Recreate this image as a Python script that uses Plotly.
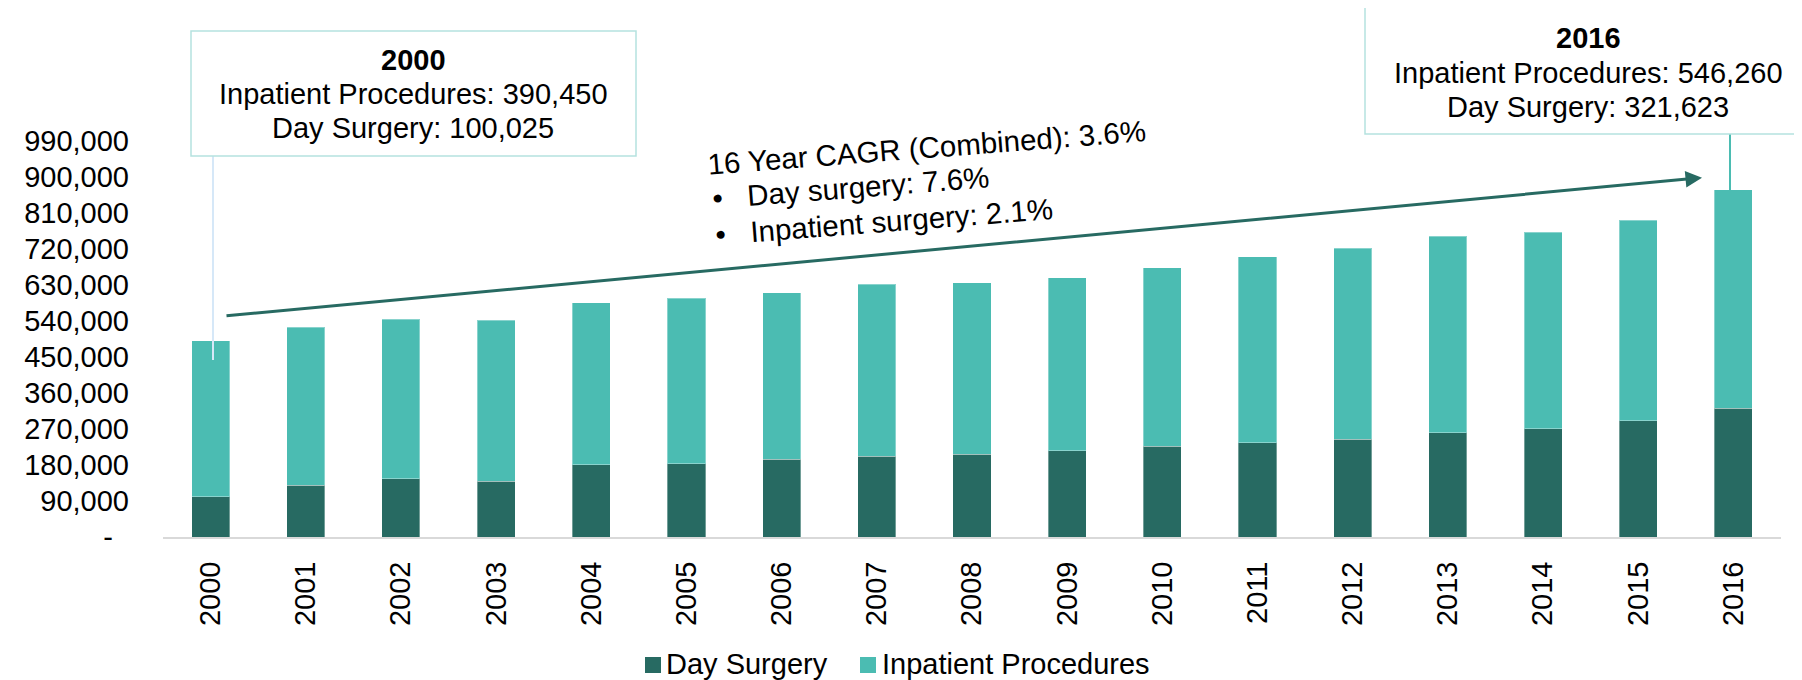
import plotly.graph_objects as go

years = [str(y) for y in range(2000, 2017)]
day_surgery = [100025, 130000, 146000, 140000, 181000, 183500, 195000, 202500, 206700,
               216000, 227500, 236000, 244000, 261000, 271000, 291000, 321623]
inpatient = [390450, 394000, 398000, 401700, 405000, 413000, 416000, 429000, 429000,
             432500, 446000, 465000, 478000, 491500, 490700, 500700, 546260]
ytick_vals = list(range(0, 990001, 90000))
ytick_text = ["-\u00a0\u00a0"] + [f"{v:,}" for v in ytick_vals[1:]]
series_names = ["Day Surgery", "Inpatient Procedures"]

DARK = "#276A62"
LIGHT = "#4BBCB2"
FONT = "Liberation Sans, Arial, sans-serif"

# page has an 8px body margin: figure drawn at (8,8)
OFF = 8
FIG_W, FIG_H = 1802 - 2 * OFF, 680 - OFF
# plot area in page pixels
L, R, T, B = 163, 1781, 141, 537
def px(x):
    return (x - L) / (R - L)
def py(y):
    return (B - y) / (B - T)

fig = go.Figure()
fig.add_trace(go.Bar(x=years, y=day_surgery, name=series_names[0],
                     marker=dict(color=DARK, line=dict(color="rgba(255,255,255,0.35)", width=1))))
fig.add_trace(go.Bar(x=years, y=inpatient, name=series_names[1],
                     marker=dict(color=LIGHT, line=dict(color="rgba(255,255,255,0.35)", width=1))))

shapes = [
    # 2000 box + connector
    dict(type="line", xref="paper", yref="paper", x0=px(213), x1=px(213), y0=py(156), y1=py(360),
         line=dict(color="#D6E8F8", width=2), layer="above"),
    dict(type="rect", xref="paper", yref="paper", x0=px(191), x1=px(636), y0=py(31), y1=py(156),
         line=dict(color="#B5E2DF", width=1.5), fillcolor="white", layer="above"),
    # 2016 box + connector
    dict(type="line", xref="paper", yref="paper", x0=px(1730), x1=px(1730), y0=py(134), y1=py(190),
         line=dict(color=LIGHT, width=2), layer="above"),
    dict(type="rect", xref="paper", yref="paper", x0=px(1365), x1=px(1812), y0=py(7), y1=py(134),
         line=dict(color="#B5E2DF", width=1.5), fillcolor="white", layer="above"),
    # legend swatches
    dict(type="rect", xref="paper", yref="paper", x0=px(645), x1=px(661), y0=py(657), y1=py(673),
         line=dict(width=0), fillcolor=DARK, layer="above"),
    dict(type="rect", xref="paper", yref="paper", x0=px(860), x1=px(876), y0=py(657), y1=py(673),
         line=dict(width=0), fillcolor=LIGHT, layer="above"),
]

def txt(x, y, s, size=29, angle=0, bold=False, xanchor="center"):
    return dict(xref="paper", yref="paper", x=px(x), y=py(y), text=(f"<b>{s}</b>" if bold else s),
                showarrow=False, xanchor=xanchor, yanchor="middle", textangle=angle,
                font=dict(family=FONT, size=size, color="black"))

annotations = [
    txt(413, 60, "2000", bold=True),
    txt(413, 94, "Inpatient Procedures: 390,450"),
    txt(413, 128, "Day Surgery: 100,025"),
    txt(1588, 38, "2016", bold=True),
    txt(1588, 73, "Inpatient Procedures: 546,260"),
    txt(1588, 107, "Day Surgery: 321,623"),
    txt(926, 148, "16 Year CAGR (Combined): 3.6%", size=29.5, angle=-4.4),
    txt(851, 187, "•\u00a0\u00a0\u00a0Day surgery: 7.6%", size=29.5, angle=-4.4),
    txt(884, 221, "•\u00a0\u00a0\u00a0Inpatient surgery: 2.1%", size=29.5, angle=-4.4),
    dict(xref="paper", yref="paper", x=px(1702), y=py(177.7), ax=225 - 1702, ay=316 - 177.7,
         axref="pixel", ayref="pixel", text="", showarrow=True, arrowhead=2, arrowsize=1.1,
         arrowwidth=3, arrowcolor=DARK, standoff=0, startstandoff=0),
    # legend labels
    txt(664, 664, series_names[0], xanchor="left"),
    txt(880, 664, series_names[1], xanchor="left"),
]

fig.update_layout(
    barmode="stack",
    bargap=0.6,
    width=FIG_W, height=FIG_H,
    margin=dict(l=L - OFF, r=FIG_W - (R - OFF), t=T - OFF, b=FIG_H - (B - OFF), pad=0, autoexpand=False),
    plot_bgcolor="white", paper_bgcolor="white",
    font=dict(family=FONT, size=29, color="black"),
    showlegend=False,
    shapes=shapes,
    annotations=annotations,
)
fig.update_xaxes(type="category", showgrid=False, showline=True, linecolor="#D9D9D9", linewidth=2,
                 ticks="", tickangle=-90, ticklabelstandoff=11, automargin=False,
                 tickfont=dict(family=FONT, size=29, color="black"))
fig.update_yaxes(range=[0, 990000], tickvals=ytick_vals, ticktext=ytick_text, showgrid=False,
                 zeroline=False, showline=False, ticks="", ticklabelstandoff=33, automargin=False,
                 tickfont=dict(family=FONT, size=29, color="black"))

fig.write_html("out.html")
